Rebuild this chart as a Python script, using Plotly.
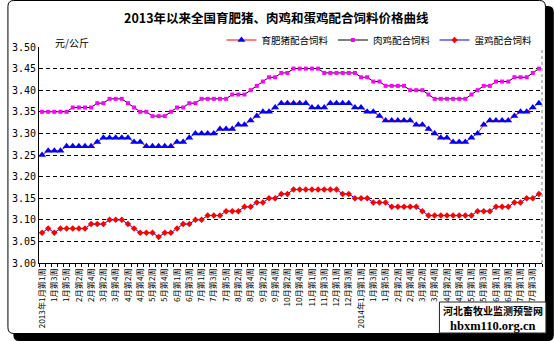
import plotly.graph_objects as go

# ---------------- data ----------------
week_index = list(range(82))

x_labels = ["2013年1月第1周", "1月第3周", "1月第5周", "2月第2周", "2月第4周", "3月第2周", "3月第4周",
            "4月第2周", "4月第4周", "5月第2周", "5月第4周", "6月第1周", "6月第3周", "7月第1周",
            "7月第3周", "7月第5周", "8月第2周", "8月第4周", "9月第2周", "9月第4周", "10月第2周",
            "10月第4周", "11月第1周", "11月第3周", "12月第1周", "12月第3周", "2014年1月第1周",
            "1月第3周", "1月第5周", "2月第2周", "2月第4周", "3月第2周", "3月第4周", "4月第2周",
            "4月第4周", "5月第1周", "5月第3周", "6月第1周", "6月第3周", "7月第1周", "7月第3周"]

pig = ([3.25] + [3.26]*3 + [3.27]*5 + [3.28] + [3.29]*5 + [3.28]*2 + [3.27]*5 + [3.28]*2 + [3.29] + [3.30]*2
       + [3.30]*2 + [3.31]*3 + [3.32]*2 + [3.33] + [3.34] + [3.35]*2 + [3.36] + [3.37]*5 + [3.36]*3
       + [3.37]*4 + [3.36]*2 + [3.35]*2 + [3.34]
       + [3.33]*5 + [3.32]*2 + [3.31] + [3.30] + [3.29]*2 + [3.28]*3 + [3.29] + [3.30] + [3.32]
       + [3.33]*4 + [3.34] + [3.35]*2 + [3.36] + [3.37])

broiler = ([3.35]*5 + [3.36]*4 + [3.37]*2 + [3.38]*3 + [3.37] + [3.36] + [3.35]*2 + [3.34]*3 + [3.35]
           + [3.36]*2 + [3.37]*2 + [3.38]
           + [3.38]*4 + [3.39]*3 + [3.40] + [3.41] + [3.42] + [3.43]*2 + [3.44]*2 + [3.45]*5 + [3.44]*6
           + [3.43]*2 + [3.42]*2
           + [3.41]*4 + [3.40]*3 + [3.39] + [3.38]*6 + [3.39] + [3.40] + [3.41]*2 + [3.42]*3 + [3.43]*3
           + [3.44] + [3.45])

layer = ([3.07, 3.08, 3.07] + [3.08]*5 + [3.09]*3 + [3.10]*3 + [3.09] + [3.08] + [3.07]*3 + [3.06]
         + [3.07]*2 + [3.08] + [3.09]*2 + [3.10]*2
         + [3.11]*3 + [3.12]*3 + [3.13]*2 + [3.14]*2 + [3.15]*2 + [3.16]*2 + [3.17]*8 + [3.16]*2 + [3.15]*3
         + [3.14]*3 + [3.13]*5 + [3.12] + [3.11]*8 + [3.12]*3 + [3.13]*3 + [3.14]*2 + [3.15]*2 + [3.16])

series_names = ["育肥猪配合饲料", "肉鸡配合饲料", "蛋鸡配合饲料"]

# ---------------- layout helpers (pixel -> paper) ----------------
W, H = 554, 341
L, R, T, B = 32, 12, 47, 78
PW, PH = W - L - R, H - T - B


def X(p):
    return (p - L) / PW


def Y(p):
    return (H - B - p) / PH


CJK = "Noto Sans CJK SC"

fig = go.Figure()
fig.add_trace(go.Scatter(x=week_index, y=pig, mode="lines+markers", name=series_names[0],
                         line=dict(color="#FF0000", width=1),
                         marker=dict(symbol="triangle-up", size=7, color="#0000FF"),
                         legend="legend"))
fig.add_trace(go.Scatter(x=week_index, y=broiler, mode="lines+markers", name=series_names[1],
                         line=dict(color="#000000", width=1),
                         marker=dict(symbol="square", size=4, color="#FF00FF"),
                         legend="legend2"))
fig.add_trace(go.Scatter(x=week_index, y=layer, mode="lines+markers", name=series_names[2],
                         line=dict(color="#0000FF", width=1),
                         marker=dict(symbol="diamond", size=5, color="#FF0000"),
                         legend="legend3"))


def rounded_rect(x0, y0, x1, y1, r):
    return (f"M {X(x0 + r)},{Y(y0)} L {X(x1 - r)},{Y(y0)} Q {X(x1)},{Y(y0)} {X(x1)},{Y(y0 + r)} "
            f"L {X(x1)},{Y(y1 - r)} Q {X(x1)},{Y(y1)} {X(x1 - r)},{Y(y1)} "
            f"L {X(x0 + r)},{Y(y1)} Q {X(x0)},{Y(y1)} {X(x0)},{Y(y1 - r)} "
            f"L {X(x0)},{Y(y0 + r)} Q {X(x0)},{Y(y0)} {X(x0 + r)},{Y(y0)} Z")


shapes = [
    # black shadow
    dict(type="path", xref="paper", yref="paper", layer="below",
         path=rounded_rect(6, 6, 554, 341, 6), fillcolor="black", line=dict(width=0)),
    # white card
    dict(type="path", xref="paper", yref="paper", layer="below",
         path=rounded_rect(0.5, 0.5, 545.5, 333.5, 6), fillcolor="white",
         line=dict(color="black", width=1)),
    # dotted right border of plot area
    dict(type="line", xref="paper", yref="paper", x0=1, x1=1, y0=0, y1=1,
         line=dict(color="#808080", width=1, dash="dot"), layer="above"),
    # watermark box
    dict(type="rect", xref="paper", yref="paper", layer="above",
         x0=X(438), x1=X(546), y0=Y(302), y1=Y(333), fillcolor="white",
         line=dict(color="#222222", width=1)),
]

annotations = [
    dict(text="<b>2013年以来全国育肥猪、肉鸡和蛋鸡配合饲料价格曲线</b>", xref="paper", yref="paper",
         x=X(273), y=Y(18), xanchor="center", yanchor="middle", showarrow=False,
         font=dict(family=CJK, size=12.5, color="black")),
    dict(text="元/公斤", xref="paper", yref="paper", x=X(46), y=Y(42), xanchor="left",
         yanchor="middle", showarrow=False, font=dict(family=CJK, size=10, color="black")),
    dict(text="<b>河北畜牧业监测预警网</b>", xref="paper", yref="paper", x=X(492), y=Y(310.5),
         xanchor="center", yanchor="middle", showarrow=False,
         font=dict(family=CJK, size=10, color="black")),
    dict(text="<b>hbxm110.org.cn</b>", xref="paper", yref="paper", x=X(492), y=Y(326),
         xanchor="center", yanchor="middle", showarrow=False,
         font=dict(family="Liberation Serif", size=12.5, color="black")),
]

legend_common = dict(orientation="h", xanchor="left", yanchor="middle", bgcolor="rgba(0,0,0,0)",
                     borderwidth=0, font=dict(family=CJK, size=9.5, color="black"))

fig.update_layout(
    width=W, height=H,
    margin=dict(l=L, r=R, t=T, b=B, pad=0),
    paper_bgcolor="white", plot_bgcolor="rgba(0,0,0,0)",
    showlegend=True,
    legend=dict(x=X(217), y=Y(40), **legend_common),
    legend2=dict(x=X(330), y=Y(40), **legend_common),
    legend3=dict(x=X(433), y=Y(40), **legend_common),
    shapes=shapes,
    annotations=annotations,
    xaxis=dict(range=[-0.5, 81.5], tickmode="array", tickvals=week_index[::2], ticktext=x_labels,
               tickangle=-90, ticks="", showline=True, linecolor="black", linewidth=1,
               showgrid=False, zeroline=False, ticklabelstandoff=1,
               tickfont=dict(family=CJK, size=8.2, color="black"),
               minor=dict(tickmode="linear", tick0=-0.5, dtick=1, ticks="outside", ticklen=3,
                          tickcolor="black", tickwidth=1, showgrid=False)),
    yaxis=dict(range=[3.0, 3.5], tickmode="linear", tick0=3.0, dtick=0.05, tickformat=".2f",
               showgrid=True, gridcolor="black", gridwidth=1, griddash="4px,3px",
               showline=True, linecolor="black", linewidth=1, ticks="", zeroline=False,
               tickfont=dict(family="DejaVu Sans Mono", size=10, color="black")),
)

fig.write_html("out.html")
